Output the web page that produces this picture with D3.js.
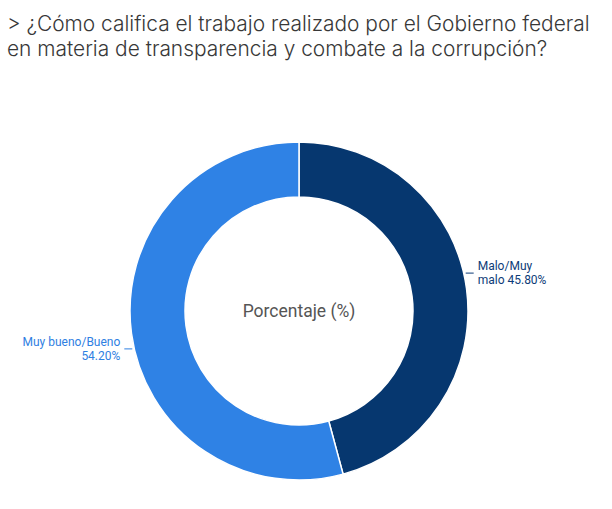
<!DOCTYPE html>
<html lang="es">
<head>
<meta charset="UTF-8">
<title>Transparencia y combate a la corrupción</title>
<script src="https://d3js.org/d3.v7.min.js"></script>
<style>
  html, body { margin: 0; padding: 0; background: #fff; }
  svg text { font-family: Roboto, "Noto Sans", sans-serif; }
  .title { font-family: Inter, "Noto Sans", sans-serif; font-size: 20.9px; font-weight: 300; fill: #383838; }
</style>
</head>
<body>
<svg id="chart" width="612" height="509"></svg>
<script>
// data
const titleLines = [
  "> ¿Cómo califica el trabajo realizado por el Gobierno federal",
  "en materia de transparencia y combate a la corrupción?"
];
const categories = ["Malo/Muy malo", "Muy bueno/Bueno"];
const labelLines = [["Malo/Muy", "malo 45.80%"], ["Muy bueno/Bueno", "54.20%"]];
const values = [45.8, 54.2];
const colors = ["#06376f", "#2f82e5"];
const labelColors = ["#0d3c78", "#2f80e2"];
const centerLabel = "Porcentaje (%)";

const width = 612, height = 509;
const cx = 299, cy = 311;
const outerR = 169, innerR = 114;
const labelShift = -5.4 * Math.PI / 180; // labels sit a bit ahead of slice middle

const svg = d3.select("#chart");

// title
svg.append("g").selectAll("text")
  .data(titleLines)
  .join("text")
  .attr("class", "title")
  .attr("x", 7)
  .attr("y", (d, i) => 31 + i * 25)
  .text(d => d);

const pie = d3.pie().sort(null).value(d => d);
const arcs = pie(values);

const arc = d3.arc().innerRadius(innerR).outerRadius(outerR);

const g = svg.append("g").attr("transform", `translate(${cx},${cy})`);

g.selectAll("path")
  .data(arcs)
  .join("path")
  .attr("d", arc)
  .attr("fill", (d, i) => colors[i])
  .attr("stroke", "#fff")
  .attr("stroke-width", 1.5);

// labels with short leader lines
arcs.forEach((d, i) => {
  const a = (d.startAngle + d.endAngle) / 2 + labelShift;
  const sin = Math.sin(a), cos = -Math.cos(a);
  const side = sin >= 0 ? 1 : -1;
  const y = outerR * cos;
  const xEdge = side * Math.sqrt(outerR * outerR - y * y);
  const x0 = xEdge + side * 2, x1 = xEdge + side * 10, xt = xEdge + side * 14;

  g.append("line")
    .attr("x1", x0).attr("x2", x1)
    .attr("y1", y).attr("y2", y)
    .attr("stroke", labelColors[i])
    .attr("stroke-width", 1);

  g.append("g").selectAll("text")
    .data(labelLines[i])
    .join("text")
    .attr("x", xt)
    .attr("y", (t, j) => y - 3 + j * 14)
    .attr("text-anchor", side > 0 ? "start" : "end")
    .attr("font-size", 12)
    .attr("fill", labelColors[i])
    .text(t => t);
});

g.append("text")
  .attr("x", 0)
  .attr("y", 6)
  .attr("text-anchor", "middle")
  .attr("font-size", 17.5)
  .attr("fill", "#555")
  .text(centerLabel);
</script>
</body>
</html>
